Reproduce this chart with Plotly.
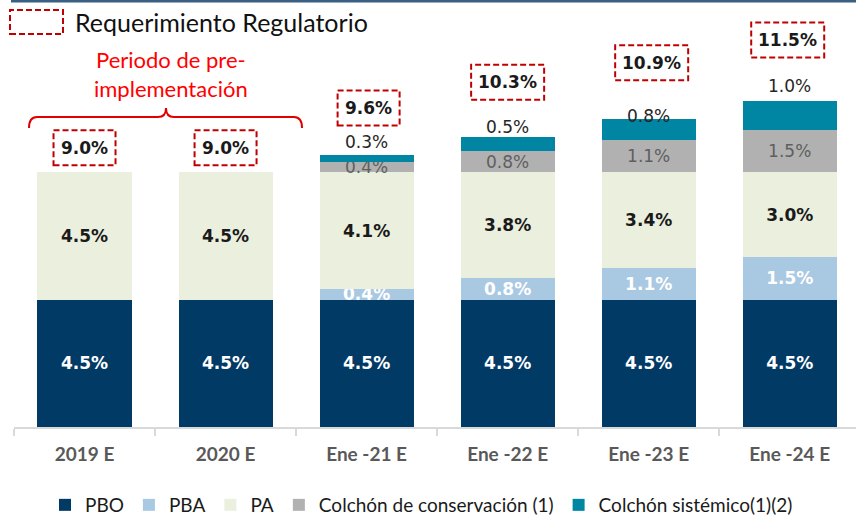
import plotly.graph_objects as go

# ---------------- data ----------------
categories = ["2019 E", "2020 E", "Ene -21 E", "Ene -22 E", "Ene -23 E", "Ene -24 E"]
pbo = [4.5, 4.5, 4.5, 4.5, 4.5, 4.5]
pba = [0, 0, 0.375, 0.75, 1.125, 1.5]
pa = [4.5, 4.5, 4.125, 3.75, 3.375, 3.0]
colchon_cons = [0, 0, 0.375, 0.75, 1.125, 1.5]
colchon_sist = [0, 0, 0.25, 0.5, 0.75, 1.0]

pbo_labels = ["4.5%", "4.5%", "4.5%", "4.5%", "4.5%", "4.5%"]
pba_labels = ["", "", "0.4%", "0.8%", "1.1%", "1.5%"]
pa_labels = ["4.5%", "4.5%", "4.1%", "3.8%", "3.4%", "3.0%"]
cons_labels = ["", "", "0.4%", "0.8%", "1.1%", "1.5%"]
sist_labels = ["", "", "0.3%", "0.5%", "0.8%", "1.0%"]
req_labels = ["9.0%", "9.0%", "9.6%", "10.3%", "10.9%", "11.5%"]

series_names = ["PBO", "PBA", "PA", "Colchón de conservación (1)", "Colchón sistémico(1)(2)"]

# ---------------- style ----------------
W, H = 856, 516
M_L, M_R, M_T, M_B = 14, 0, 1, 89
PW, PH = W - M_L - M_R, H - M_T - M_B
colors = ["#023A66", "#A9C8E2", "#EBEFDE", "#B1B1B1", "#0086A3"]
RED = "#C00000"
VAL_FONT = "DejaVu Sans"
TXT_FONT = "Lato"

# pixel offsets (style) for the hand-placed labels
box_lift_px = [7, 7, 29, 37, 39, 44]      # gap between bar top and dashed box bottom
box_dx_px = [0, 0, 2, 0, 3, -2]
box_h_px = 35
sist_lift_px = [0, 0, 13, 10, 3, 15]


def ppx(x):
    return (x - M_L) / PW


def ppy(y):
    return (H - M_B - y) / PH


totals = [a + b + c + d + e for a, b, c, d, e in zip(pbo, pba, pa, colchon_cons, colchon_sist)]

fig = go.Figure()
label_styles = [
    (pbo_labels, dict(family=VAL_FONT, size=17, color="white", weight="bold")),
    (pba_labels, dict(family=VAL_FONT, size=17, color="white", weight="bold")),
    (pa_labels, dict(family=VAL_FONT, size=17, color="#1A1A1A", weight="bold")),
    (cons_labels, dict(family=VAL_FONT, size=17, color="#5F5F5F")),
    (None, None),
]
for name, vals, col, (labs, tf) in zip(series_names, [pbo, pba, pa, colchon_cons, colchon_sist], colors, label_styles):
    kw = {}
    if labs is not None:
        kw = dict(text=labs, textposition="inside", insidetextanchor="middle", textangle=0,
                  constraintext="none", textfont=tf)
    fig.add_trace(go.Bar(name=name, x=categories, y=vals, marker=dict(color=col, line=dict(width=0)),
                         hoverinfo="skip", **kw))

annotations = []
shapes = []

# labels above the bars (Colchón sistémico)
for i, (lab, t) in enumerate(zip(sist_labels, totals)):
    if lab:
        annotations.append(dict(x=i, y=t, xref="x", yref="y", text=lab, showarrow=False,
                                xanchor="center", yanchor="middle", yshift=sist_lift_px[i],
                                font=dict(family=VAL_FONT, size=17, color="#262626")))

# regulatory requirement dashed boxes
for i, (lab, t) in enumerate(zip(req_labels, totals)):
    w = 11 * len(lab) + 18
    y0 = box_lift_px[i]
    y1 = y0 + box_h_px
    dx = box_dx_px[i]
    shapes.append(dict(type="rect", xref="x", yref="y", xsizemode="pixel", ysizemode="pixel",
                       xanchor=i, yanchor=t, x0=dx - w / 2, x1=dx + w / 2, y0=y0, y1=y1,
                       line=dict(color=RED, width=2, dash="6px,3px"), fillcolor="rgba(0,0,0,0)"))
    annotations.append(dict(x=i, y=t, xref="x", yref="y", text=lab, showarrow=False,
                            xanchor="center", yanchor="middle", yshift=(y0 + y1) / 2, xshift=dx,
                            font=dict(family=VAL_FONT, size=17, color="#1A1A1A", weight="bold")))

# header: top rule, legend box for requirement
shapes.append(dict(type="line", xref="paper", yref="paper", x0=ppx(11), x1=ppx(856), y0=ppy(1), y1=ppy(1),
                   line=dict(color="#3B5E83", width=3)))
shapes.append(dict(type="rect", xref="paper", yref="paper", x0=ppx(10), x1=ppx(63), y0=ppy(34), y1=ppy(10),
                   line=dict(color=RED, width=2, dash="6px,3px")))
annotations.append(dict(x=ppx(73), y=ppy(22), xref="paper", yref="paper", text="Requerimiento Regulatorio",
                        showarrow=False, xanchor="left", yanchor="middle",
                        font=dict(family=TXT_FONT, size=25, color="#111111")))

# pre-implementation period text and brace
annotations.append(dict(x=ppx(171), y=ppy(74), xref="paper", yref="paper",
                        text="Periodo de pre-<br>implementación", showarrow=False,
                        xanchor="center", yanchor="middle",
                        font=dict(family=TXT_FONT, size=22, color="#FF0000")))
bl, br, bc, yb, yh, yt = 29, 302, 166, 128, 117, 108
path = (f"M {ppx(bl)},{ppy(yb)} Q {ppx(bl)},{ppy(yh)} {ppx(bl+8)},{ppy(yh)} "
        f"L {ppx(bc-8)},{ppy(yh)} Q {ppx(bc)},{ppy(yh)} {ppx(bc)},{ppy(yt)} "
        f"Q {ppx(bc)},{ppy(yh)} {ppx(bc+8)},{ppy(yh)} L {ppx(br-8)},{ppy(yh)} "
        f"Q {ppx(br)},{ppy(yh)} {ppx(br)},{ppy(yb)}")
shapes.append(dict(type="path", xref="paper", yref="paper", path=path,
                   line=dict(color="#E00000", width=2)))

fig.update_layout(
    width=W, height=H,
    margin=dict(l=M_L, r=M_R, t=M_T, b=M_B, autoexpand=False),
    barmode="stack", bargap=0.333,
    plot_bgcolor="white", paper_bgcolor="white",
    showlegend=True,
    legend=dict(orientation="h", x=ppx(45), xanchor="left", y=ppy(524), yanchor="bottom",
                font=dict(family=TXT_FONT, size=19, color="#1A1A1A"), traceorder="normal",
                itemclick=False, itemdoubleclick=False, borderwidth=0, bgcolor="rgba(0,0,0,0)"),
    xaxis=dict(type="category", range=[-0.5, 5.47], showgrid=False, showline=True, automargin=False,
               linecolor="#D9D9D9", linewidth=1.5, ticks="outside", ticklen=7, tickcolor="#D9D9D9",
               tickwidth=1.5, tickson="boundaries", ticklabelstandoff=10,
               tickfont=dict(family=TXT_FONT, size=19, color="#595959", weight="bold"), fixedrange=True),
    yaxis=dict(range=[0, 15.05], visible=False, showgrid=False, fixedrange=True, automargin=False),
    shapes=shapes,
    annotations=annotations,
)

fig.write_html("out.html", config={"displayModeBar": False, "staticPlot": True},
               post_script="document.body.style.margin='0px';document.body.style.overflow='hidden';")
